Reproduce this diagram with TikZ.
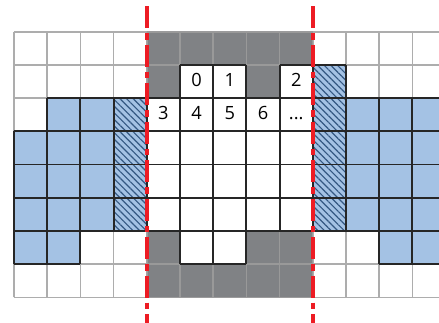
\documentclass[tikz,border=0pt]{standalone}
\usepackage{fontspec}
\setmainfont{Open Sans}
\usetikzlibrary{patterns.meta}

\definecolor{cellgray}{RGB}{128,130,133}
\definecolor{cellblue}{RGB}{164,194,228}
\definecolor{hatchblue}{RGB}{52,88,130}
\definecolor{cutred}{RGB}{237,28,36}

\tikzset{
  outergrid/.style={draw=black!32, line width=1.1pt},
  ghostgrid/.style={draw=black!40, line width=1.1pt},
  activegrid/.style={draw=black!85, line width=1.3pt},
  ghostcell/.style={fill=cellgray},
  bluecell/.style={fill=cellblue},
  hatchcell/.style={preaction={fill=cellblue},
    pattern={Lines[angle=-45, distance=3.2pt, line width=0.8pt]},
    pattern color=hatchblue},
  cellnum/.style={font=\fontsize{12.5}{15}\selectfont, text height=0.72em,
    text depth=0pt, inner sep=0pt},
  cutline/.style={cutred, line width=3.1pt,
    dash pattern=on 15pt off 3.4pt on 4.6pt off 3.4pt}
}

\begin{document}
\begin{tikzpicture}[x=0.8cm, y=0.8cm]
  \useasboundingbox (-0.42,-8.744) rectangle (12.80,0.955);
  \clip (-0.42,-8.744) rectangle (12.80,0.955);
  \fill[white] (-0.42,-8.744) rectangle (12.80,0.955);

  % alle Zellen
  \draw[outergrid, step=1] (0,-8) grid (13,0);

  % Randzellen (grau)
  \path[ghostcell] (4,0) -- (9,0) -- (9,-1) -- (8,-1) -- (8,-2) -- (7,-2)
    -- (7,-1) -- (5,-1) -- (5,-2) -- (4,-2) -- cycle;
  \path[ghostcell] (4,-8) -- (9,-8) -- (9,-6) -- (7,-6) -- (7,-7) -- (5,-7)
    -- (5,-6) -- (4,-6) -- cycle;
  \begin{scope}
    \clip (4,0) -- (9,0) -- (9,-1) -- (8,-1) -- (8,-2) -- (7,-2)
      -- (7,-1) -- (5,-1) -- (5,-2) -- (4,-2) -- cycle;
    \draw[ghostgrid, step=1] (4,-2) grid (9,0);
  \end{scope}
  \begin{scope}
    \clip (4,-8) -- (9,-8) -- (9,-6) -- (7,-6) -- (7,-7) -- (5,-7)
      -- (5,-6) -- (4,-6) -- cycle;
    \draw[ghostgrid, step=1] (4,-8) grid (9,-6);
  \end{scope}

  % Nachbarbloecke
  \path[bluecell] (1,-2) -- (3,-2) -- (3,-6) -- (2,-6) -- (2,-7) -- (0,-7)
    -- (0,-3) -- (1,-3) -- cycle;
  \path[bluecell] (10,-2) -- (13,-2) -- (13,-7) -- (11,-7) -- (11,-6)
    -- (10,-6) -- cycle;
  \path[hatchcell] (3,-2) rectangle (4,-6);
  \path[hatchcell] (9,-1) rectangle (10,-6);

  % aktive Zellen
  \draw[activegrid, step=1] (5,-2) grid (7,-1);
  \draw[activegrid, step=1] (8,-2) grid (10,-1);
  \draw[activegrid, step=1] (1,-3) grid (13,-2);
  \draw[activegrid, step=1] (0,-6) grid (13,-3);
  \draw[activegrid, step=1] (0,-7) grid (2,-6);
  \draw[activegrid, step=1] (5,-7) grid (7,-6);
  \draw[activegrid, step=1] (11,-7) grid (13,-6);

  % Nummerierung
  \node[cellnum] (n0) at (5.5,-1.5) {0};
  \node[cellnum] (n1) at (6.5,-1.5) {1};
  \node[cellnum] (n2) at (8.5,-1.5) {2};
  \node[cellnum] (n3) at (4.5,-2.5) {3};
  \node[cellnum] (n4) at (5.5,-2.5) {4};
  \node[cellnum] (n5) at (6.5,-2.5) {5};
  \node[cellnum] (n6) at (7.5,-2.5) {6};
  \node[cellnum] (ndots) at (8.5,-2.5) {...};

  % Schnittlinien
  \coordinate (cutLtop) at (4,0.77);
  \coordinate (cutLbot) at (4,-8.8);
  \coordinate (cutRtop) at (9,0.77);
  \coordinate (cutRbot) at (9,-8.8);
  \draw[cutline] (cutLtop) -- (cutLbot);
  \draw[cutline] (cutRtop) -- (cutRbot);
\end{tikzpicture}
\end{document}
